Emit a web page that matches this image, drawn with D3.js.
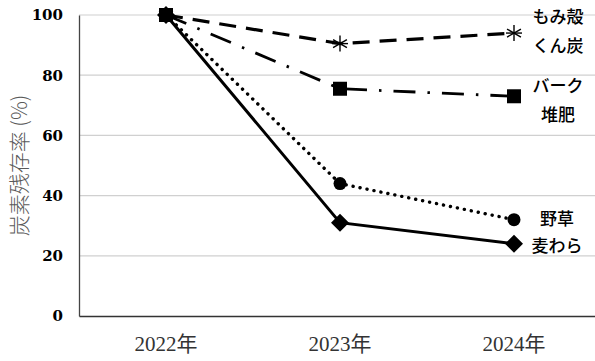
<!DOCTYPE html>
<html>
<head>
<meta charset="utf-8">
<script src="https://cdn.jsdelivr.net/npm/d3@7"></script>
<style>
  html, body { margin: 0; padding: 0; background: #fff; }
  svg { display: block; }
</style>
</head>
<body>
<svg id="chart" width="595" height="361"></svg>
<script>
// Carbon residual rate by amendment type, 2022–2024
const years = ["2022年", "2023年", "2024年"];
const yTicks = [0, 20, 40, 60, 80, 100];
const momigara = [100, 90.5, 94];   // もみ殻くん炭
const bark = [100, 75.5, 73];       // バーク堆肥
const yasou = [100, 44, 32];        // 野草
const mugiwara = [100, 31, 24];     // 麦わら

const series = [
  { name: ["もみ殻", "くん炭"], values: momigara, dash: "17,10", width: 3.2, marker: "star" },
  { name: ["バーク", "堆肥"], values: bark, dash: "22,12,2.5,12", width: 2.8, marker: "square" },
  { name: ["野草"], values: yasou, dash: "0.1,7", width: 3.4, marker: "circle" },
  { name: ["麦わら"], values: mugiwara, dash: null, width: 3, marker: "diamond" }
];

const svg = d3.select("#chart");
const margin = { left: 79, top: 15, bottom: 45 };
const W = 595, H = 361;
const serif = "'Liberation Serif', 'Noto Sans CJK JP', serif";

const x = d3.scaleBand().domain(years).range([margin.left, margin.left + 522]);
const y = d3.scaleLinear().domain([0, 100]).range([H - margin.bottom, margin.top]);
const cx = d => x(d) + x.bandwidth() / 2;

// horizontal gridlines
svg.append("g").selectAll("line").data(yTicks.filter(t => t > 0)).join("line")
  .attr("x1", margin.left).attr("x2", W)
  .attr("y1", d => y(d)).attr("y2", d => y(d))
  .attr("stroke", "#d0d0d0").attr("stroke-width", 1.2);

// y axis
const yAxis = svg.append("g").attr("transform", `translate(${margin.left},0)`)
  .call(d3.axisLeft(y).tickValues(yTicks).tickSize(0).tickPadding(16));
yAxis.select(".domain").attr("stroke", "#444").attr("stroke-width", 1.3);
yAxis.selectAll("text")
  .style("font-family", "'DejaVu Serif', serif")
  .style("font-weight", "bold").style("font-size", "15px").attr("fill", "#000");

// x axis
const xAxis = svg.append("g").attr("transform", `translate(0,${y(0)})`)
  .call(d3.axisBottom(x).tickSize(0).tickPadding(20));
xAxis.select(".domain").attr("stroke", "#333").attr("stroke-width", 1.6);
xAxis.selectAll("text")
  .style("font-family", serif)
  .style("font-size", "21px").attr("fill", "#333");

// y axis title
svg.append("text")
  .attr("transform", `translate(27,${(y(0) + y(100)) / 2}) rotate(-90)`)
  .attr("text-anchor", "middle")
  .style("font-family", "'Noto Sans CJK JP', sans-serif")
  .style("font-weight", 300)
  .style("font-size", "21px").attr("fill", "#595959")
  .text("炭素残存率 (%)");

const line = d3.line().x((d, i) => cx(years[i])).y(d => y(d));

series.forEach(s => {
  svg.append("path").datum(s.values)
    .attr("d", line)
    .attr("fill", "none").attr("stroke", "#000")
    .attr("stroke-width", s.width)
    .attr("stroke-linecap", s.marker === "circle" ? "round" : "butt")
    .attr("stroke-dasharray", s.dash);
});

function drawMarker(g, type, px, py) {
  if (type === "circle") {
    g.append("circle").attr("cx", px).attr("cy", py).attr("r", 6.5).attr("fill", "#000");
  } else if (type === "square") {
    g.append("rect").attr("x", px - 7).attr("y", py - 7).attr("width", 14).attr("height", 14).attr("fill", "#000");
  } else if (type === "diamond") {
    g.append("path").attr("d", `M${px},${py - 9}L${px + 9},${py}L${px},${py + 9}L${px - 9},${py}Z`).attr("fill", "#000");
  } else if (type === "star") {
    const r = 8;
    const gs = g.append("g").attr("stroke", "#000").attr("stroke-width", 1.4);
    [0, 60, 120].forEach(a => {
      const rad = (a + 90) * Math.PI / 180;
      gs.append("line")
        .attr("x1", px - r * Math.cos(rad)).attr("y1", py - r * Math.sin(rad))
        .attr("x2", px + r * Math.cos(rad)).attr("y2", py + r * Math.sin(rad));
    });
    gs.append("line").attr("x1", px - r).attr("x2", px + r).attr("y1", py).attr("y2", py);
  }
}

const mg = svg.append("g");
series.forEach(s => {
  s.values.forEach((v, i) => drawMarker(mg, s.marker, cx(years[i]), y(v)));
});

// series labels at the right end
const labelFont = "'Noto Sans CJK JP', sans-serif";
const lastX = cx(years[2]);
const labelSpecs = [
  { s: series[0], dx: 44, dy: [-10, 19] },
  { s: series[1], dx: 44, dy: [-4, 25] },
  { s: series[2], dx: 43, dy: [5] },
  { s: series[3], dx: 43, dy: [8] }
];
labelSpecs.forEach(l => {
  const last = l.s.values[l.s.values.length - 1];
  l.s.name.forEach((n, k) => {
    svg.append("text")
      .attr("x", lastX + l.dx).attr("y", y(last) + l.dy[k])
      .attr("text-anchor", "middle")
      .style("font-family", labelFont).style("font-weight", 500)
      .style("font-size", "17px").attr("fill", "#000")
      .text(n);
  });
});
</script>
</body>
</html>
